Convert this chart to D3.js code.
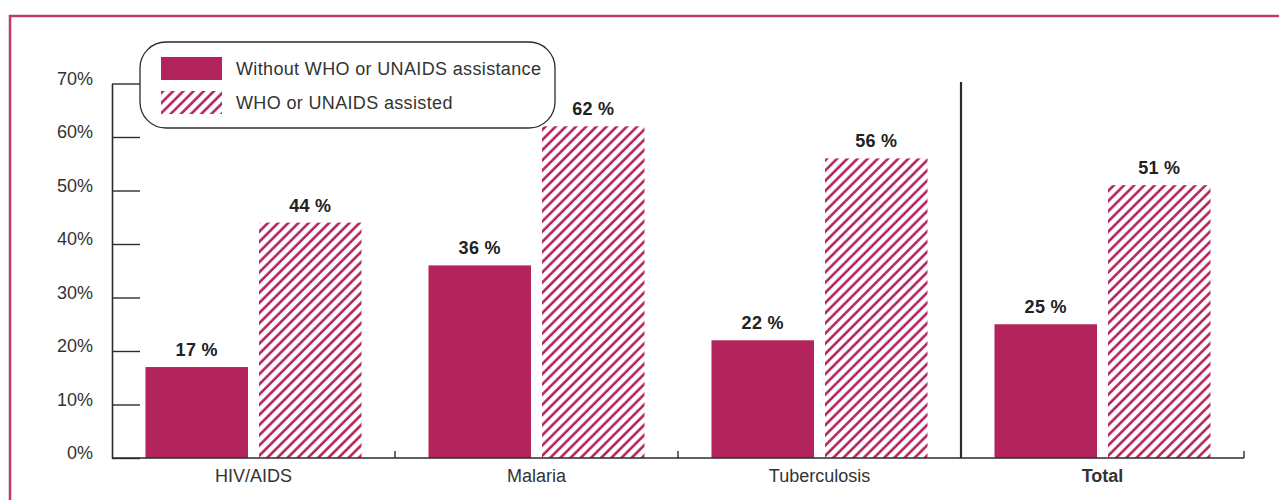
<!DOCTYPE html>
<html>
<head>
<meta charset="utf-8">
<script src="https://cdn.jsdelivr.net/npm/d3@7"></script>
<style>
  body { margin: 0; background: #fff; }
  svg { display: block; font-family: "Liberation Sans", Arial, sans-serif; }
</style>
</head>
<body>
<div class="chart_bar"></div>
<script>
// data
var categories = ["HIV/AIDS", "Malaria", "Tuberculosis", "Total"];
var seriesNames = ["Without WHO or UNAIDS assistance", "WHO or UNAIDS assisted"];
var withoutValues = [17, 36, 22, 25];
var assistedValues = [44, 62, 56, 51];
var yTicks = [0, 10, 20, 30, 40, 50, 60, 70];

var pink = "#b3245c";
var ink = "#2b2b2b";

var width = 1279, height = 500;

var svg = d3.select(".chart_bar").append("svg")
  .attr("width", width)
  .attr("height", height);

// hatch pattern
var defs = svg.append("defs");
var pat = defs.append("pattern")
  .attr("id", "hatch")
  .attr("patternUnits", "userSpaceOnUse")
  .attr("width", 7.2)
  .attr("height", 7.2)
  .attr("patternTransform", "rotate(45)");
pat.append("rect").attr("width", 7.2).attr("height", 7.2).attr("fill", "#fff");
pat.append("line")
  .attr("x1", 1.5).attr("y1", 0).attr("x2", 1.5).attr("y2", 7.2)
  .attr("stroke", pink).attr("stroke-width", 2.6);

// outer frame
svg.append("rect")
  .attr("x", 10).attr("y", 16)
  .attr("width", 1400).attr("height", 600)
  .attr("fill", "none")
  .attr("stroke", "#c0396b")
  .attr("stroke-width", 2.5);

// scales
var x0 = d3.scaleBand().domain(categories).range([112, 1244]).padding(0);
var x1 = d3.scaleBand().domain([0, 1]).range([0, x0.bandwidth()])
  .paddingInner(0.097).paddingOuter(0.295);
var y = d3.scaleLinear().domain([0, 70]).range([458, 83.5]);

// y axis
var yAxis = svg.append("g")
  .attr("transform", "translate(112,0)")
  .call(d3.axisLeft(y).tickValues(yTicks).tickSizeInner(-28).tickSizeOuter(0)
    .tickPadding(19).tickFormat(function(d) { return d + "%"; }));
yAxis.select(".domain").attr("stroke", ink).attr("stroke-width", 1.6);
yAxis.selectAll(".tick line").attr("stroke", ink).attr("stroke-width", 1.4);
yAxis.selectAll(".tick text")
  .attr("font-size", 18)
  .attr("fill", "#333")
  .attr("dy", "0.05em")
  .style("font-family", "'Liberation Sans', Arial, sans-serif");

// bars
var groups = svg.selectAll(".cat")
  .data(categories)
  .enter().append("g")
  .attr("class", "cat")
  .attr("transform", function(d) { return "translate(" + x0(d) + ",0)"; });

var barData = function(d, i) {
  return [{ s: 0, v: withoutValues[i] }, { s: 1, v: assistedValues[i] }];
};

groups.selectAll("rect")
  .data(barData)
  .enter().append("rect")
  .attr("x", function(d) { return x1(d.s); })
  .attr("width", x1.bandwidth())
  .attr("y", function(d) { return y(d.v); })
  .attr("height", function(d) { return y(0) - y(d.v); })
  .attr("fill", function(d) { return d.s === 0 ? pink : "url(#hatch)"; });

groups.selectAll("text.val")
  .data(barData)
  .enter().append("text")
  .attr("class", "val")
  .attr("x", function(d) { return x1(d.s) + x1.bandwidth() / 2; })
  .attr("y", function(d) { return y(d.v) - 11; })
  .attr("text-anchor", "middle")
  .attr("font-size", 18)
  .attr("font-weight", "bold")
  .attr("letter-spacing", 0.3)
  .attr("fill", "#222")
  .text(function(d) { return d.v + " %"; });

// x axis
var xAxis = svg.append("g");
xAxis.append("line")
  .attr("x1", 112).attr("x2", 1244)
  .attr("y1", y(0)).attr("y2", y(0))
  .attr("stroke", ink).attr("stroke-width", 1.6);
var bounds = categories.slice(1).map(function(c) { return x0(c); }).concat([x0.range()[1]]);
xAxis.selectAll("line.tk")
  .data(bounds)
  .enter().append("line")
  .attr("class", "tk")
  .attr("x1", function(d) { return d; }).attr("x2", function(d) { return d; })
  .attr("y1", y(0)).attr("y2", y(0) - 7)
  .attr("stroke", ink).attr("stroke-width", 1.4);
xAxis.selectAll("text")
  .data(categories)
  .enter().append("text")
  .attr("x", function(d) { return x0(d) + x0.bandwidth() / 2; })
  .attr("y", 482)
  .attr("text-anchor", "middle")
  .attr("font-size", 18)
  .attr("font-weight", function(d) { return d === "Total" ? "bold" : "normal"; })
  .attr("fill", "#333")
  .text(function(d) { return d; });

// separator before Total
svg.append("line")
  .attr("x1", x0("Total")).attr("x2", x0("Total"))
  .attr("y1", 82).attr("y2", y(0))
  .attr("stroke", ink).attr("stroke-width", 2.2);

// legend
var legend = svg.append("g");
legend.append("rect")
  .attr("x", 140).attr("y", 42)
  .attr("width", 415).attr("height", 86)
  .attr("rx", 26).attr("ry", 26)
  .attr("fill", "#fff")
  .attr("stroke", ink)
  .attr("stroke-width", 1.3);
var items = legend.selectAll(".item")
  .data(seriesNames)
  .enter().append("g")
  .attr("class", "item")
  .attr("transform", function(d, i) { return "translate(161," + (57 + i * 34) + ")"; });
items.append("rect")
  .attr("width", 61).attr("height", 23)
  .attr("fill", function(d, i) { return i === 0 ? pink : "url(#hatch)"; });
items.append("text")
  .attr("x", 75).attr("y", 11.5)
  .attr("dy", "0.35em")
  .attr("font-size", 18)
  .attr("letter-spacing", 0.35)
  .attr("fill", "#333")
  .text(function(d) { return d; });
</script>
</body>
</html>
